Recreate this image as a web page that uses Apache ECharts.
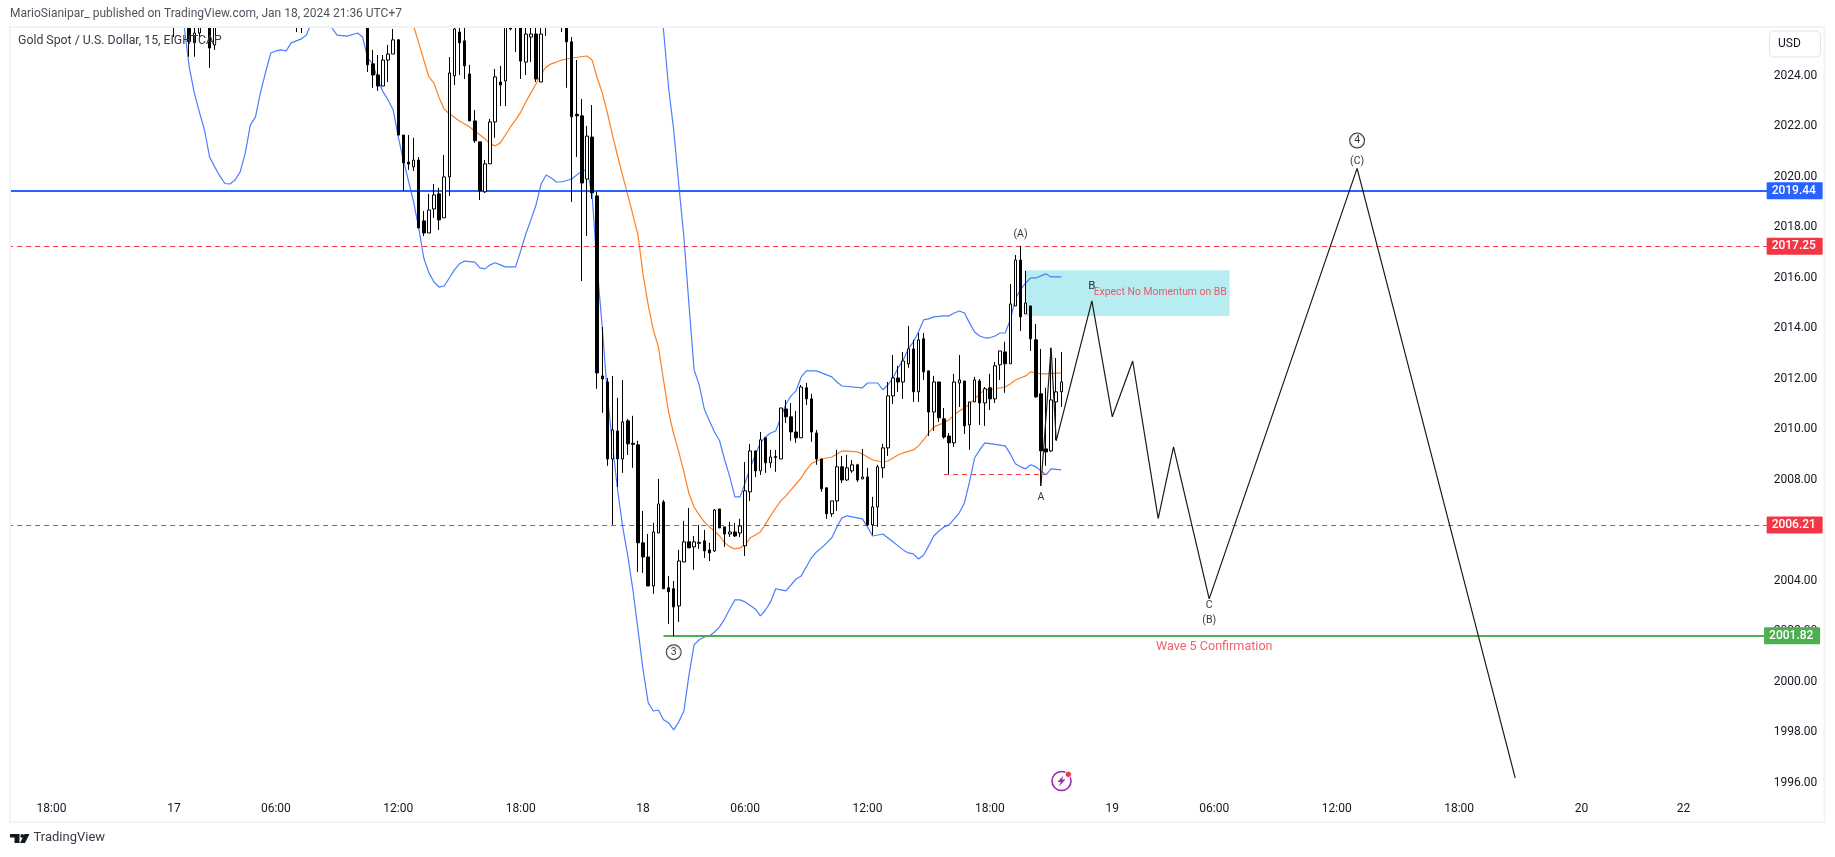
<!DOCTYPE html>
<html><head><meta charset="utf-8">
<style>html,body{margin:0;padding:0;background:#fff}#c{width:1835px;height:857px}</style>
<script src="https://cdn.jsdelivr.net/npm/echarts@6/dist/echarts.min.js"></script>
</head><body><div id="c"></div>
<script>
const slotCount = 345;
const tickIndex = [8,32,52,76,100,124,144,168,192,216,236,260,284,308,328];
const tickLabels = ['18:00','17','06:00','12:00','18:00','18','06:00','12:00','18:00','19','06:00','12:00','18:00','20','22'];
const priceTicksHidden = [2026];
// [slot, open, close, low, high]
const bars = [
[32,2026.8,2026.41,2025.53,2027],[35,2026.6,2025.35,2024.75,2027],[36,2025.3,2025.69,2024.75,2026.2],[37,2025.69,2026.6,2025.5,2027],[39,2026.6,2025.1,2024.31,2027],[40,2025.22,2026.6,2025.02,2027],
[56,2026.8,2026.6,2025.73,2027],[57,2026.6,2026.8,2025.69,2027],
[70,2026.6,2024.43,2024.15,2027],[71,2024.47,2024.03,2023.52,2025.02],[72,2024.03,2023.59,2023.4,2024.82],[73,2023.59,2024.62,2023.59,2024.82],[74,2024.62,2024.86,2023.75,2025.22],[75,2024.86,2025.42,2024.86,2025.85],[76,2025.42,2021.65,2021.65,2025.45],[77,2021.65,2020.55,2019.44,2021.65],[78,2020.58,2020.5,2020.27,2021.65],[79,2020.39,2020.66,2020.23,2021.54],
[80,2020.66,2017.97,2017.97,2020.78],[81,2018.25,2017.77,2017.65,2018.64],[82,2017.77,2018.68,2017.77,2019.32],[83,2018.72,2019.28,2018.37,2019.71],[84,2019.32,2018.29,2017.89,2019.56],[85,2018.37,2019.99,2018.37,2020.86],[86,2019.99,2024.11,2019.24,2024.74],[87,2023.99,2025.85,2023.63,2027],[88,2025.73,2025.3,2024.03,2027],[89,2025.38,2024.39,2023.87,2027],
[90,2024.07,2022.21,2022.21,2024.43],[91,2022.21,2021.42,2021.34,2022.64],[92,2021.38,2019.44,2019.08,2021.38],[93,2019.4,2020.51,2019.36,2020.66],[94,2020.51,2022.17,2020.51,2022.29],[95,2022.17,2023.95,2021.54,2024.27],[96,2023.75,2023.63,2022.8,2024.39],[97,2023.79,2026.41,2022.8,2027],[98,2026.21,2025.85,2025.8,2027],[99,2026.6,2026.4,2024.94,2027],
[100,2026.6,2024.58,2023.87,2027],[101,2024.54,2025.65,2024.03,2027],[102,2025.53,2025.65,2024.54,2027],[103,2025.65,2023.87,2023.75,2027],[104,2023.75,2025.65,2023.75,2027],[105,2026.6,2026.4,2025.57,2027],[108,2026.6,2026.4,2025.73,2027],[109,2026.6,2025.34,2023.52,2027],
[110,2025.34,2022.37,2019,2025.53],[111,2022.47,2022.41,2020.78,2024.62],[112,2022.41,2019.75,2015.87,2023.08],[113,2019.91,2021.61,2017.65,2022.01],[114,2021.57,2019.36,2019.12,2022.84],[115,2019.24,2012.23,2011.6,2019.4],[116,2012.11,2011.99,2010.65,2014.05],[117,2011.87,2008.82,2008.55,2012.03],[118,2008.82,2009.97,2006.21,2012.11],[119,2009.93,2008.82,2007.71,2011.24],
[120,2008.82,2010.29,2008.27,2011.95],[121,2010.33,2009.42,2008.98,2010.41],[122,2009.44,2009.4,2008.47,2010.53],[123,2009.38,2005.5,2004.35,2009.54],[124,2005.5,2004.94,2004.31,2006.76],[125,2004.94,2003.79,2003.79,2005.85],[126,2003.79,2005.93,2003.48,2006.29],[127,2005.89,2007.04,2005.89,2008.03],[128,2007.12,2003.68,2003.68,2007.2],[129,2003.72,2003.56,2002.29,2004.19],
[130,2003.68,2002.96,2001.81,2003.99],[131,2003,2004.78,2002.37,2005.22],[132,2004.74,2005.54,2004.74,2006.37],[133,2005.54,2005.3,2005.3,2006.88],[134,2005.34,2005.54,2004.43,2005.77],[135,2005.48,2005.52,2005.26,2006.21],[136,2005.58,2005.18,2004.9,2006.01],[137,2005.22,2005.1,2004.78,2005.5],[138,2005.18,2006.8,2005.14,2006.84],[139,2006.84,2006.09,2006.09,2006.84],
[140,2006.13,2005.85,2005.34,2006.13],[141,2005.85,2005.93,2005.73,2006.33],[142,2005.93,2005.77,2005.73,2006.29],[143,2005.89,2006.17,2005.73,2006.45],[144,2005.38,2007.56,2004.98,2008.7],[145,2007.52,2009.14,2007.16,2009.42],[146,2009.14,2008.35,2008.11,2009.14],[147,2008.35,2009.58,2008.19,2009.89],[148,2009.66,2008.67,2008.27,2009.66],[149,2008.67,2008.9,2008.47,2009.18],
[150,2008.92,2008.88,2008.31,2009.18],[151,2008.82,2010.84,2008.82,2010.84],[152,2010.8,2010.49,2010.25,2011.16],[153,2010.49,2009.89,2009.54,2011.04],[154,2009.89,2009.66,2009.46,2010.72],[155,2009.66,2011.67,2009.66,2011.75],[156,2011.64,2011.2,2010.96,2011.83],[157,2011.2,2009.89,2009.5,2011.4],[158,2009.85,2008.82,2008.59,2009.97],[159,2008.82,2007.64,2007.52,2008.82],
[160,2007.68,2006.65,2006.45,2007.68],[161,2006.65,2007.16,2006.53,2007.16],[162,2007.16,2008.51,2006.76,2009.18],[163,2008.51,2007.99,2007.87,2008.94],[164,2007.99,2008.47,2007.95,2008.98],[165,2008.35,2008.59,2008.27,2008.78],[166,2008.59,2007.99,2007.91,2008.63],[167,2008.03,2008.11,2008.03,2009.22],[168,2008.11,2006.21,2006.17,2008.47],[169,2006.21,2006.92,2005.81,2007.32],
[170,2006.92,2008.51,2006.13,2008.59],[171,2008.47,2009.26,2008.07,2009.42],[172,2009.26,2011.32,2008.94,2011.87],[173,2011.32,2012.03,2011,2012.94],[174,2012.03,2011.87,2011.48,2012.51],[175,2011.87,2012.7,2011.2,2013.06],[176,2012.59,2013.18,2012.43,2014.09],[177,2013.18,2011.48,2011.08,2013.54],[178,2011.48,2013.54,2011.08,2013.81],[179,2013.58,2012.27,2011.95,2013.81],
[180,2012.31,2010.68,2009.73,2012.31],[181,2010.68,2011.87,2009.93,2012.11],[182,2011.87,2010.45,2010.29,2011.87],[183,2010.41,2009.69,2009.62,2010.84],[184,2009.73,2009.46,2008.23,2009.85],[185,2009.46,2011.87,2009.3,2012.19],[186,2011.83,2011.95,2010.88,2012.94],[187,2011.91,2010.13,2009.81,2011.91],[188,2010.17,2011.08,2009.18,2011.08],[189,2011.08,2011.95,2011.08,2012.07],
[190,2011.91,2011.04,2010.17,2011.99],[191,2011.04,2011.6,2010.13,2011.67],[192,2011.64,2011.2,2010.76,2012.19],[193,2011.2,2012.51,2011.04,2012.66],[194,2012.55,2013.1,2011.95,2013.1],[195,2013.06,2012.59,2011.44,2013.46],[196,2012.59,2014.96,2012.59,2015.75],[197,2014.88,2016.7,2014.88,2016.9],[198,2016.7,2014.45,2013.89,2017.26],[199,2014.57,2015,2014.57,2016.27],
[200,2014.88,2013.58,2013.1,2014.88],[201,2013.54,2011.28,2011.24,2014.17],[202,2011.4,2009.14,2007.75,2013.18],[203,2009.22,2009.1,2008.55,2011.64],[204,2009.14,2011.16,2009.1,2013.22],[205,2011.08,2011.48,2009.58,2012.82],[206,2011.48,2011.87,2010.88,2013.06]
];
const bbLower = [[33,2027],[34,2025.97],[35,2024.35],[36,2023.32],[37,2022.56],[38,2021.85],[39,2020.78],[40,2020.39],[41,2020.03],[42,2019.73],[43,2019.71],[44,2019.87],[45,2020.19],[46,2020.94],[47,2022.05],[48,2022.37],[49,2023.36],[50,2024.15],[51,2024.9],[52,2024.98],[53,2025.02],[54,2024.98],[55,2025.3],[56,2025.38],[57,2025.46],[58,2025.61],[59,2026.13],[60,2026.6],[62,2026.6],[63,2025.89],[64,2025.61],[66,2025.57],[68,2025.69],[69,2025.53],[70,2024.7],[71,2024.47],[72,2023.83],[73,2023.36],[74,2023.04],[75,2022.64],[76,2021.57],[77,2020.66],[78,2019.83],[79,2019],[80,2017.97],[81,2016.78],[82,2016.19],[83,2015.83],[84,2015.63],[85,2015.67],[86,2015.99],[87,2016.31],[88,2016.55],[89,2016.66],[91,2016.62],[92,2016.39],[93,2016.35],[94,2016.51],[95,2016.59],[96,2016.51],[97,2016.43],[99,2016.43],[100,2017.06],[101,2017.73],[102,2018.29],[103,2018.88],[104,2019.71],[105,2020.07],[106,2019.95],[107,2019.79],[108,2019.79],[110,2019.91],[112,2020.23],[113,2020.27],[114,2019.28],[115,2016.39],[116,2014.01],[117,2011.36],[118,2009.38],[119,2007.6],[120,2006.13],[121,2004.98],[122,2003.64],[123,2002.05],[124,2000.47],[125,1999.16],[126,1998.84],[127,1998.88],[128,1998.49],[129,1998.37],[130,1998.09],[131,1998.41],[132,1998.84],[133,2000.27],[134,2001.46],[135,2001.66],[136,2001.77],[137,2001.81],[138,2001.97],[139,2002.17],[140,2002.49],[141,2002.88],[142,2003.24],[143,2003.24],[144,2003.16],[146,2002.88],[147,2002.61],[148,2002.84],[149,2003.16],[150,2003.68],[151,2003.64],[152,2003.6],[153,2003.83],[154,2004.07],[155,2004.19],[156,2004.55],[157,2004.9],[158,2005.14],[159,2005.3],[160,2005.5],[161,2005.7],[162,2006.13],[163,2006.49],[164,2006.57],[167,2006.45],[168,2006.13],[169,2005.77],[171,2005.85],[173,2005.54],[174,2005.38],[175,2005.22],[176,2005.1],[177,2005.06],[178,2004.86],[179,2005.02],[180,2005.38],[181,2005.77],[182,2005.97],[183,2006.13],[184,2006.21],[185,2006.45],[186,2006.69],[187,2007.08],[188,2007.91],[189,2008.86],[190,2009.18],[191,2009.46],[195,2009.34],[196,2009.02],[197,2008.63],[198,2008.51],[199,2008.43],[200,2008.59],[201,2008.51],[202,2008.35],[203,2008.19],[204,2008.43],[206,2008.39]];
const bbUpper = [[127,2027],[128,2025.81],[129,2023.52],[130,2021.85],[131,2019.67],[132,2017.61],[133,2014.92],[134,2012.35],[135,2011.75],[136,2010.8],[137,2010.33],[138,2009.89],[139,2009.54],[140,2008.78],[141,2008.11],[142,2007.32],[143,2007.32],[144,2007.87],[145,2008.47],[146,2008.98],[147,2009.46],[148,2009.69],[149,2009.85],[150,2009.93],[151,2010.45],[152,2011],[153,2011.32],[154,2011.52],[155,2012.07],[156,2012.31],[158,2012.31],[159,2012.23],[161,2012.07],[162,2011.87],[163,2011.71],[167,2011.64],[168,2011.83],[170,2011.83],[171,2011.56],[172,2011.75],[173,2012.03],[174,2012.43],[175,2012.74],[176,2013.18],[177,2013.46],[178,2013.85],[179,2014.33],[180,2014.37],[181,2014.45],[183,2014.49],[184,2014.49],[185,2014.6],[186,2014.68],[187,2014.6],[188,2014.21],[189,2013.85],[190,2013.69],[191,2013.62],[192,2013.62],[193,2013.69],[194,2013.81],[195,2013.81],[196,2014.33],[197,2015.16],[198,2015.52],[199,2015.79],[200,2015.99],[201,2015.99],[202,2016.07],[203,2016.15],[204,2016.03],[206,2016.03]];
const bbMiddle = [[78,2027],[79,2025.97],[80,2025.3],[81,2024.62],[82,2023.95],[83,2023.71],[84,2023.12],[85,2022.68],[86,2022.49],[88,2022.21],[90,2021.97],[91,2021.81],[93,2021.5],[94,2021.3],[95,2021.22],[96,2021.34],[97,2021.65],[98,2021.97],[99,2022.25],[100,2022.56],[101,2022.96],[102,2023.32],[103,2023.67],[104,2024.07],[105,2024.35],[106,2024.47],[107,2024.54],[108,2024.62],[110,2024.7],[113,2024.78],[114,2024.62],[115,2023.91],[116,2023.32],[117,2022.53],[118,2021.65],[119,2020.82],[120,2020.03],[121,2019.28],[122,2018.49],[123,2017.69],[124,2016.11],[125,2014.92],[126,2013.93],[127,2013.26],[128,2011.95],[129,2010.68],[130,2009.81],[131,2009.1],[132,2008.31],[133,2007.44],[134,2006.92],[135,2006.61],[136,2006.33],[137,2006.13],[138,2005.97],[139,2005.77],[140,2005.5],[141,2005.34],[142,2005.26],[143,2005.3],[144,2005.42],[145,2005.7],[146,2005.81],[147,2005.93],[148,2006.25],[149,2006.57],[150,2006.88],[151,2007.16],[152,2007.36],[153,2007.6],[154,2007.83],[155,2008.07],[156,2008.39],[157,2008.63],[158,2008.74],[159,2008.82],[161,2008.9],[162,2009.02],[163,2009.14],[165,2009.12],[166,2009.1],[167,2009.02],[168,2008.9],[169,2008.78],[171,2008.7],[172,2008.74],[173,2008.86],[174,2008.98],[175,2009.06],[177,2009.18],[178,2009.34],[179,2009.58],[180,2009.85],[181,2010.09],[183,2010.25],[184,2010.37],[185,2010.57],[186,2010.72],[187,2010.84],[188,2011],[189,2011.2],[190,2011.4],[191,2011.56],[193,2011.6],[195,2011.67],[196,2011.79],[197,2011.95],[198,2012.03],[199,2012.11],[200,2012.27],[201,2012.23],[202,2012.19],[203,2012.19],[206,2012.23]];
const wavePath = [[202,2007.75],[204,2013.22],[205,2009.54],[212,2015.08],[216,2010.49],[220,2012.7],[225,2006.46],[228,2009.3],[235,2003.28],[264,2020.33],[295,1996.19]];
const levelBlue = 2019.44;
const levelRedHigh = 2017.25;
const levelRedLow = 2006.21;
const levelGreen = 2001.82;
const levelShort = 2008.21;
const zone = [199,2016.3,239,2014.48];
const notes = [[198,2017.72,'(A)'],[202,2007.31,'A'],[235,2003.04,'C'],[235,2002.42,'(B)'],[264,2020.6,'(C)']];
const waveB = [[212,2015.67,'B']];
const circled = [[130,2001.17,'3'],[264,2021.43,'4']];
const zoneNote = [[225,2015.41,'Expect No Momentum on BB']];
const confirmNote = [[236,2001.4,'Wave 5 Confirmation']];

const FONT = 'Roboto, "Noto Sans", sans-serif';
const INK = '#131722', RED = '#f23645', BLUE = '#2962ff', GREEN = '#4caf50';
const categories = Array.from({length: slotCount}, (_, i) => i);

function tag(color, fmt) {
  return {show: true, position: 'end', distance: -1, formatter: fmt, backgroundColor: color, color: '#fff',
    fontFamily: FONT, fontSize: 12, fontWeight: 500, width: 46, height: 17, lineHeight: 17, padding: [0, 5], align: 'left', borderRadius: 1};
}
function fullLine(level, color, width, type) {
  return {silent: true, symbol: 'none', animation: false,
    lineStyle: {color, width, type, opacity: 1},
    emphasis: {disabled: true},
    label: tag(color, level.toFixed(2)),
    data: [{yAxis: level}]};
}
const hidden = {type: 'line', data: [], silent: true};
const lineBase = {type: 'line', showSymbol: false, symbol: 'none', silent: true, animation: false, clip: true, z: 4};
function textSeries(data, label) {
  return {type: 'scatter', data, encode: {x: 0, y: 1}, symbolSize: 1, silent: true, animation: false, z: 8, clip: false,
    itemStyle: {color: 'transparent'}, label: Object.assign({show: true, position: 'inside', fontFamily: FONT, fontSize: 11, formatter: p => p.value[2]}, label)};
}

const chart = echarts.init(document.getElementById('c'), null, {renderer: 'canvas'});
const rects = [[9,26,1816,2],[9,26,2,797],[1823.5,26,2,797],[9,821,1816,2]];
const graphics = [
  {type: 'rect', z: 90, silent: true, shape: {x: 0, y: 0, width: 1835, height: 27}, style: {fill: '#fff'}},
  {type: 'rect', z: 90, silent: true, shape: {x: 0, y: 0, width: 10, height: 857}, style: {fill: '#fff'}}
];
rects.forEach(r => graphics.push({type: 'rect', z: 100, silent: true, shape: {x: r[0], y: r[1], width: r[2], height: r[3]}, style: {fill: '#f0f3fa'}}));
graphics.push(
  {type: 'text', z: 101, left: 10, top: 8, style: {text: 'MarioSianipar_ published on TradingView.com, Jan 18, 2024 21:36 UTC+7', fill: '#50535e', font: '12px ' + FONT}},
  {type: 'text', z: 101, left: 18, top: 35, style: {text: 'Gold Spot / U.S. Dollar, 15, EIGHTCAP', fill: '#363a45', font: '12.3px ' + FONT}},
  {type: 'rect', z: 101, shape: {x: 1769.5, y: 31, width: 51, height: 26, r: 4}, style: {fill: '#fff', stroke: '#e0e3eb', lineWidth: 1}},
  {type: 'text', z: 102, left: 1778, top: 38, style: {text: 'USD', fill: INK, font: '12px ' + FONT}},
  {type: 'polygon', z: 101, shape: {points: [[10,834],[19.5,834],[19.5,843],[14.5,843],[14.5,837.5],[10,837.5]]}, style: {fill: INK}},
  {type: 'circle', z: 101, shape: {cx: 22.2, cy: 835.9, r: 1.9}, style: {fill: INK}},
  {type: 'polygon', z: 101, shape: {points: [[24.5,834],[29.5,834],[25,843],[20,843]]}, style: {fill: INK}},
  {type: 'text', z: 101, left: 33.5, top: 831, style: {text: 'TradingView', fill: '#363a45', font: '13px ' + FONT}},
  {type: 'circle', z: 101, shape: {cx: 1061.5, cy: 781, r: 9.5}, style: {fill: '#fff', stroke: '#9c27b0', lineWidth: 1.6}},
  {type: 'polygon', z: 102, shape: {points: [[1063.5,775.5],[1057.5,782],[1060.8,782],[1058.8,786.5],[1065.5,779.6],[1062,779.6]]}, style: {fill: '#9c27b0'}},
  {type: 'circle', z: 103, shape: {cx: 1068.3, cy: 774.3, r: 3.2}, style: {fill: RED, stroke: '#fff', lineWidth: 1}}
);

chart.setOption({
  animation: false,
  backgroundColor: '#fff',
  textStyle: {fontFamily: FONT},
  grid: {left: 8.15, top: 25.2, width: 1759.5, height: 757.5, containLabel: false},
  xAxis: {type: 'category', data: categories, boundaryGap: true,
    axisLine: {show: false}, axisTick: {show: false}, splitLine: {show: false},
    axisLabel: {color: INK, fontFamily: FONT, fontSize: 12, margin: 20, hideOverlap: false,
      interval: i => tickIndex.includes(i),
      formatter: v => { const n = tickIndex.indexOf(+v); return n < 0 ? '' : tickLabels[n]; }}},
  yAxis: {type: 'value', position: 'right', min: 1996, max: 2026, interval: 2, scale: true,
    axisLine: {show: false}, axisTick: {show: false}, splitLine: {show: false},
    axisLabel: {color: INK, fontFamily: FONT, fontSize: 12, margin: 6, padding: [2, 0, 0, 0], showMinLabel: true, showMaxLabel: true,
      formatter: v => priceTicksHidden.includes(v) ? '' : v.toFixed(2)}},
  graphic: graphics,
  series: [
    {type: 'scatter', data: [], z: 1, silent: true,
      markArea: {silent: true, animation: false, itemStyle: {color: '#b7ecf1'},
        data: [[{xAxis: zone[0], yAxis: zone[1]}, {xAxis: zone[2], yAxis: zone[3]}]]}},
    Object.assign({}, lineBase, {name: 'BB upper', data: bbUpper, lineStyle: {color: '#4a7dff', width: 1.2}}),
    Object.assign({}, lineBase, {name: 'BB lower', data: bbLower, lineStyle: {color: '#4a7dff', width: 1.2}}),
    Object.assign({}, lineBase, {name: 'BB basis', data: bbMiddle, lineStyle: {color: '#ff7f1e', width: 1.2}}),
    {type: 'candlestick', name: 'XAUUSD', data: bars, encode: {x: 0, y: [1, 2, 3, 4]}, barWidth: 3, clip: true, silent: true, animation: false, z: 5,
      itemStyle: {color: '#ffffff', color0: '#000000', borderColor: '#000000', borderColor0: '#000000', borderWidth: 1}},
    Object.assign({}, lineBase, {name: 'Wave', data: wavePath, z: 6, lineStyle: {color: '#1a1a1a', width: 1.2}}),
    Object.assign({}, hidden, {z: 7, markLine: fullLine(levelRedLow, RED, 1, [5, 4])}),
    Object.assign({}, hidden, {z: 7, markLine: fullLine(levelRedHigh, RED, 1, [5, 4])}),
    Object.assign({}, hidden, {z: 7, markLine: fullLine(levelBlue, BLUE, 2, 'solid')}),
    Object.assign({}, hidden, {z: 7, markLine: {silent: true, symbol: 'none', animation: false,
      lineStyle: {color: GREEN, width: 2, type: 'solid', opacity: 1}, label: tag(GREEN, levelGreen.toFixed(2)),
      data: [[{xAxis: 128, yAxis: levelGreen}, {xAxis: slotCount - 1, yAxis: levelGreen}]]}}),
    Object.assign({}, hidden, {z: 7, markLine: {silent: true, symbol: 'none', animation: false,
      lineStyle: {color: RED, width: 1, type: [5, 4], opacity: 1}, label: {show: false},
      data: [[{xAxis: 183, yAxis: levelShort}, {xAxis: 203, yAxis: levelShort}]]}}),
    textSeries(notes, {color: '#000', fontSize: 10.5}),
    textSeries(waveB, {color: '#000', fontSize: 11.5}),
    textSeries(zoneNote, {color: RED, fontSize: 10.4, offset: [2, 0]}),
    textSeries(confirmNote, {color: RED, fontSize: 12.6}),
    textSeries(circled, {color: '#000', fontSize: 10.5, backgroundColor: '#fff', borderColor: '#000', borderWidth: 1, borderRadius: 7.5, width: 14, height: 14, lineHeight: 14, align: 'center'})
  ]
});
</script></body></html>
